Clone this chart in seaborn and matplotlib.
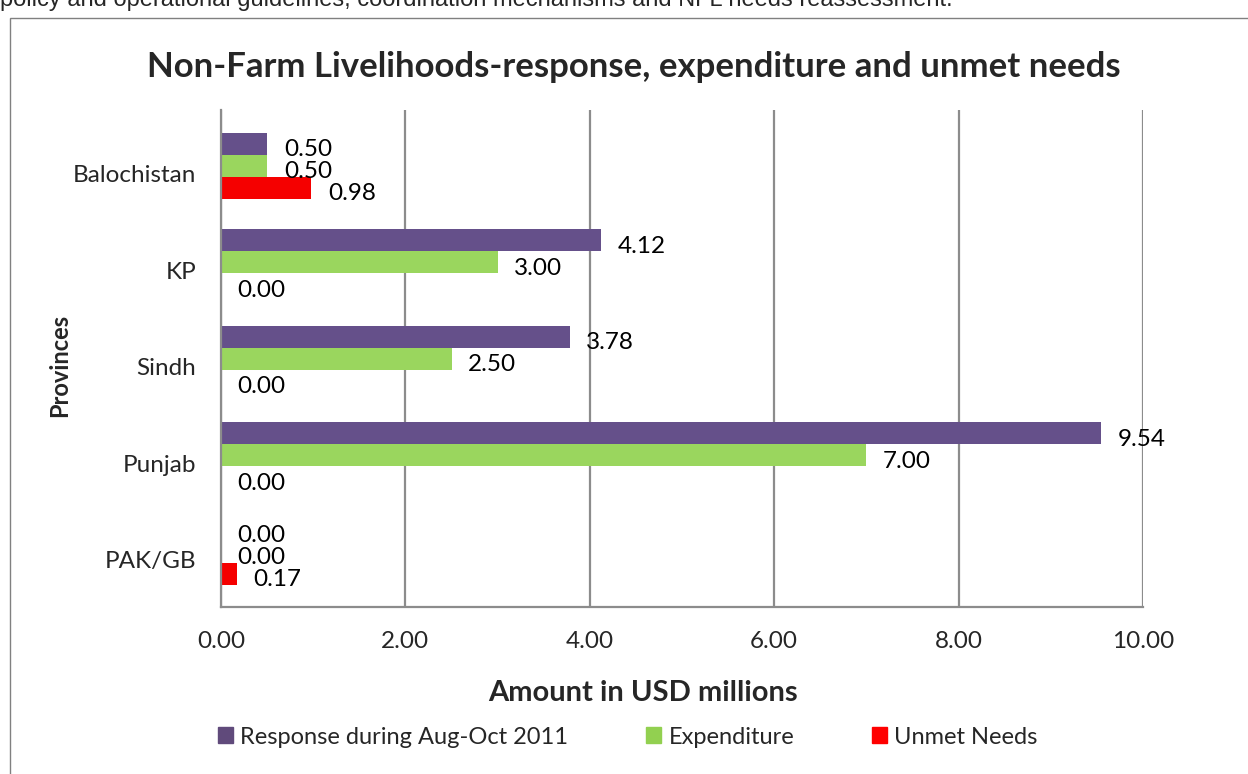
import numpy as np
import pandas as pd
import matplotlib
matplotlib.use('Agg')
import matplotlib.pyplot as plt
import matplotlib.patches as mpatches
from matplotlib.transforms import ScaledTranslation
import seaborn as sns

provinces = ['Balochistan', 'KP', 'Sindh', 'Punjab', 'PAK/GB']
response = [0.50, 4.12, 3.78, 9.54, 0.00]
expenditure = [0.50, 3.00, 2.50, 7.00, 0.00]
unmet = [0.98, 0.00, 0.00, 0.00, 0.17]
series_names = ['Response during Aug-Oct 2011', 'Expenditure', 'Unmet Needs']
bar_colors = ['#65508A', '#9AD65E', '#F50000']
legend_colors = ['#604A7B', '#92D050', '#FF0000']
x_ticks = [0, 2, 4, 6, 8, 10]

df = pd.DataFrame({
    'Province': provinces * 3,
    'Amount': response + expenditure + unmet,
    'Series': [s for s in series_names for _ in provinces],
})

sns.set_style('white')
plt.rcParams['font.family'] = ['Lato', 'DejaVu Sans']

fig = plt.figure(figsize=(12.48, 7.74), dpi=100)
ax = fig.add_axes([221 / 1248, 1 - 607 / 774, 922 / 1248, 497 / 774])

sns.barplot(data=df, y='Province', x='Amount', hue='Series', order=provinces,
            hue_order=series_names, palette=bar_colors, saturation=1,
            width=0.684, orient='h', legend=False, ax=ax, linewidth=0)

ax.set_xlim(0, 10)
ax.set_ylim(4.57, -0.58)
ax.set_xticks(x_ticks)
ax.set_xticklabels([f'{v:.2f}' for v in x_ticks], fontsize=17.5)
ax.tick_params(axis='x', length=6, width=1.5, color='#8c8c8c', pad=11, direction='out')
ax.tick_params(axis='y', length=0, pad=18, labelsize=17.5)
ax.grid(axis='x', color='#8c8c8c', lw=1.6)
ax.grid(axis='y', visible=False)
ax.set_axisbelow(True)
for side in ['top', 'right']:
    ax.spines[side].set_visible(False)
for side in ['left', 'bottom']:
    ax.spines[side].set_color('#8c8c8c')
    ax.spines[side].set_linewidth(1.6)
ax.set_xlabel('')
ax.set_ylabel('')

# category labels sit a little below the bar group centre
for lab in ax.get_yticklabels():
    lab.set_transform(lab.get_transform() + ScaledTranslation(0, -8 / 100, fig.dpi_scale_trans))

# value labels
for cont in ax.containers:
    for bar, val in zip(cont.patches, cont.datavalues):
        ax.annotate(f'{val:.2f}', (bar.get_width(), bar.get_y() + bar.get_height() / 2),
                    xytext=(12, -4), textcoords='offset points',
                    ha='left', va='center', fontsize=17.5, color='black')

fig.text(634 / 1248, 1 - 67 / 774, 'Non-Farm Livelihoods-response, expenditure and unmet needs',
         ha='center', va='center', fontsize=25, fontweight='bold')
fig.text(643 / 1248, 1 - 693 / 774, 'Amount in USD millions', ha='center', va='center',
         fontsize=21, fontweight='bold')
fig.text(60 / 1248, 1 - 365 / 774, 'Provinces', ha='center', va='center', rotation=90,
         fontsize=17, fontweight='bold')

handles = [mpatches.Patch(color=c, label=s) for c, s in zip(legend_colors, series_names)]
fig.legend(handles=handles, loc='center', bbox_to_anchor=(628 / 1248, 1 - 737 / 774), ncol=3,
           frameon=False, fontsize=17, handlelength=0.64, handleheight=0.64,
           handletextpad=0.3, columnspacing=3.3)

# chart frame and clipped text from the page above it
fig.add_artist(mpatches.Rectangle((10 / 1248, -0.1), 1.2, 0.1 + 1 - 18 / 774,
                                  transform=fig.transFigure, fill=False,
                                  edgecolor='#808080', lw=1))
fig.text(0.0, 1 - 6 / 774,
         'policy and operational guidelines, coordination mechanisms and NFL needs reassessment.',
         ha='left', va='baseline', fontsize=17, family='Liberation Sans')

fig.savefig('out.png', dpi=100)
